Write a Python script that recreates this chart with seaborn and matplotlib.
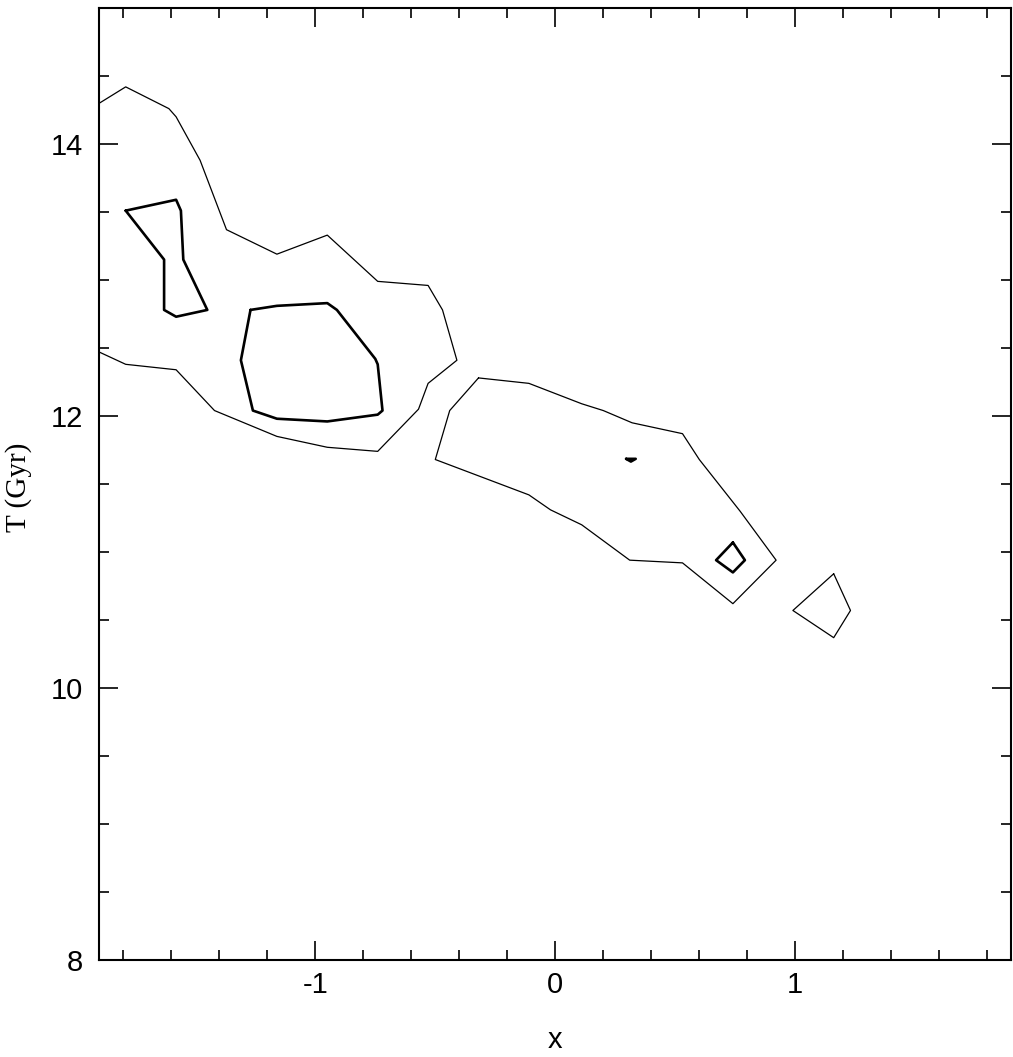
import numpy as np
import pandas as pd
import matplotlib
matplotlib.use("Agg")
import matplotlib.pyplot as plt
from matplotlib.ticker import MultipleLocator, FixedLocator
import seaborn as sns

# ---- contour data (x, T in Gyr) ----
outer_left_x = [-1.90, -1.79, -1.61, -1.58, -1.48, -1.37, -1.16, -0.95, -0.74, -0.53, -0.47, -0.41,
                -0.53, -0.57, -0.74, -0.95, -1.16, -1.42, -1.58, -1.79, -1.90]
outer_left_y = [14.30, 14.42, 14.26, 14.20, 13.88, 13.37, 13.19, 13.33, 12.99, 12.96, 12.78, 12.41,
                12.24, 12.05, 11.74, 11.77, 11.85, 12.04, 12.34, 12.38, 12.47]

bowtie_x = [-1.79, -1.58, -1.56, -1.55, -1.45, -1.58, -1.63, -1.63, -1.79]
bowtie_y = [13.51, 13.59, 13.51, 13.15, 12.78, 12.73, 12.78, 13.15, 13.51]

oval_x = [-1.27, -1.16, -0.95, -0.91, -0.75, -0.74, -0.72, -0.74, -0.95, -1.16, -1.26, -1.31, -1.27]
oval_y = [12.78, 12.81, 12.83, 12.78, 12.42, 12.38, 12.04, 12.01, 11.96, 11.98, 12.04, 12.41, 12.78]

middle_x = [-0.32, -0.11, 0.11, 0.20, 0.32, 0.53, 0.60, 0.77, 0.92, 0.74, 0.53, 0.31, 0.11,
            -0.02, -0.11, -0.50, -0.44, -0.32]
middle_y = [12.28, 12.24, 12.09, 12.04, 11.95, 11.87, 11.68, 11.30, 10.94, 10.62, 10.92, 10.94, 11.20,
            11.31, 11.42, 11.68, 12.04, 12.28]

blob_x = [0.295, 0.335, 0.315, 0.295]
blob_y = [11.685, 11.685, 11.665, 11.685]

diamond_x = [0.74, 0.79, 0.74, 0.67, 0.74]
diamond_y = [11.07, 10.94, 10.85, 10.94, 11.07]

quad_x = [1.16, 1.23, 1.16, 0.99, 1.16]
quad_y = [10.84, 10.57, 10.37, 10.57, 10.84]

x_major_ticks = [-1, 0, 1]
y_major_ticks = [8, 10, 12, 14]

thin = [(outer_left_x, outer_left_y), (middle_x, middle_y), (quad_x, quad_y)]
thick = [(bowtie_x, bowtie_y), (oval_x, oval_y), (blob_x, blob_y), (diamond_x, diamond_y)]

sns.set_style("white")
plt.rcParams['font.family'] = ['Liberation Sans', 'DejaVu Sans']
plt.rcParams['text.color'] = 'black'
plt.rcParams['axes.labelcolor'] = 'black'
plt.rcParams['xtick.color'] = 'black'
plt.rcParams['ytick.color'] = 'black'

fig = plt.figure(figsize=(10.13, 10.57), dpi=100)
ax = fig.add_axes([99.3 / 1013, 97 / 1057, 912 / 1013, 952 / 1057])

def draw(xs, ys, lw):
    df = pd.DataFrame({"x": xs, "y": ys, "i": np.arange(len(xs))})
    sns.lineplot(data=df, x="x", y="y", sort=False, estimator=None, color="black",
                 linewidth=lw, ax=ax, legend=False)

for xs, ys in thin:
    draw(xs, ys, 0.9)
for xs, ys in thick:
    draw(xs, ys, 1.9)

ax.set_xlim(-1.9, 1.9)
ax.set_ylim(8, 15)

ax.xaxis.set_major_locator(FixedLocator(x_major_ticks))
ax.xaxis.set_minor_locator(MultipleLocator(0.2))
ax.yaxis.set_major_locator(FixedLocator(y_major_ticks))
ax.yaxis.set_minor_locator(MultipleLocator(0.5))
ax.set_xticklabels(["-1", "0", "1"])
ax.set_yticklabels([str(v) for v in y_major_ticks])

ax.tick_params(which="both", direction="in", top=True, right=True, bottom=True, left=True,
               color="black", width=1.2, labelcolor="black")
ax.tick_params(which="major", length=13.5, labelsize=21)
ax.tick_params(which="minor", length=7)
ax.tick_params(axis="x", which="major", pad=8)
ax.tick_params(axis="y", which="major", pad=12)

for s in ax.spines.values():
    s.set_visible(True)
    s.set_color("black")
    s.set_linewidth(1.5)

ax.set_xlabel("x", fontsize=21, labelpad=19, color="black")
ax.set_ylabel("T (Gyr)", fontsize=21, family=["Liberation Serif", "DejaVu Serif"], color="black")
ax.yaxis.set_label_coords((32 - 99.3) / 912, (960 - 487) / 952)

fig.savefig("out.png", dpi=100)
